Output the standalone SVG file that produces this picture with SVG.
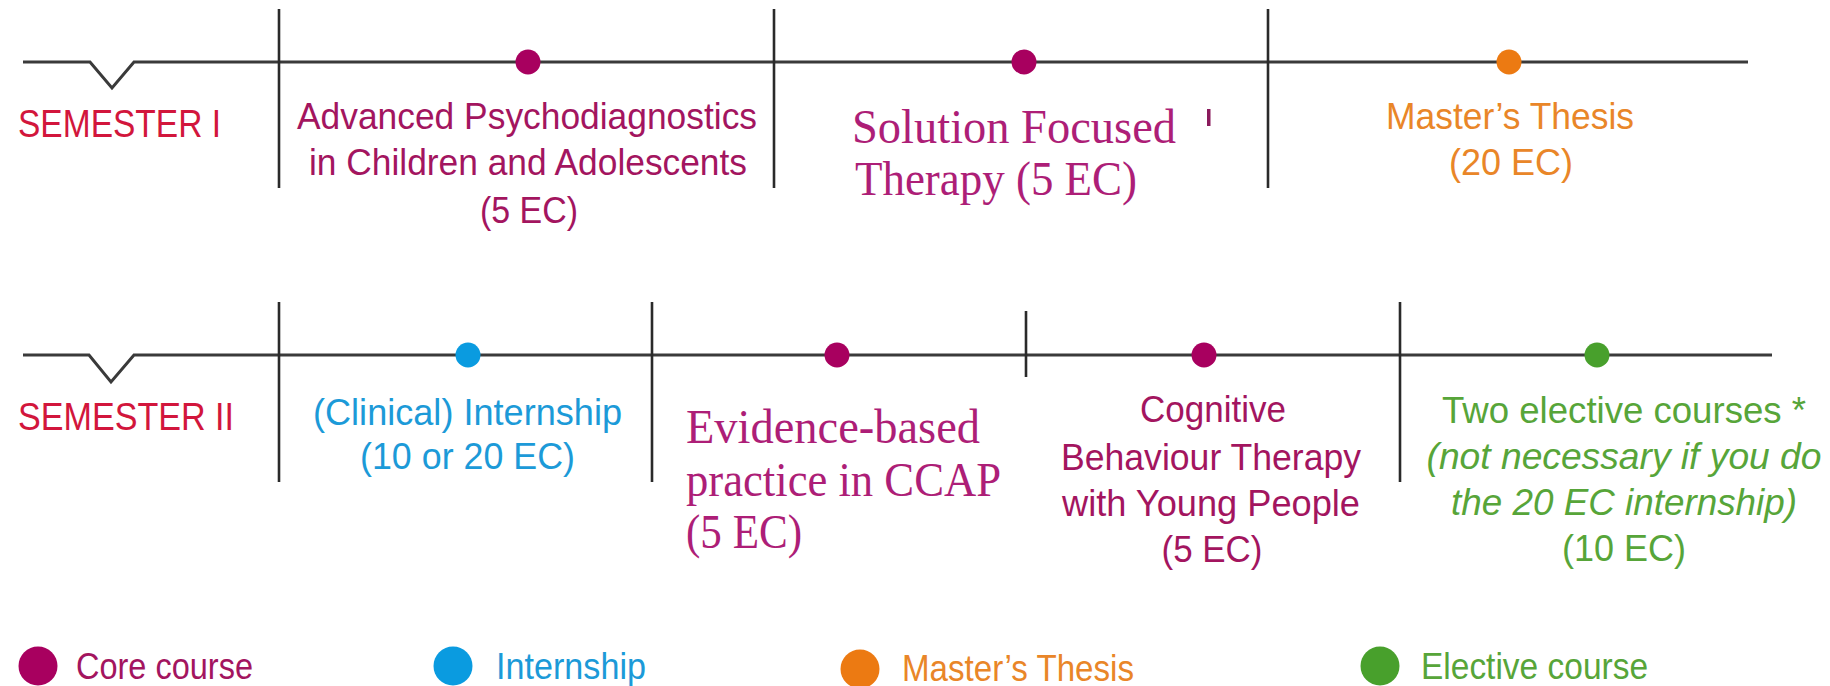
<svg xmlns="http://www.w3.org/2000/svg" width="1830" height="686" viewBox="0 0 1830 686">
<defs>
<style>
.ln{stroke:#3a3a3a;stroke-width:3;fill:none;stroke-linejoin:miter}
.dv{stroke:#2a2a2a;stroke-width:2.6}
.sans{font-family:"Liberation Sans","Noto Sans",sans-serif;font-size:37px}
.serif{font-family:"Liberation Serif","DejaVu Serif",serif;font-size:48px;fill:#ad1e77}
.sem{fill:#d2163c;font-size:38px}
.core{fill:#a3155f}
.intern{fill:#1c9ad8}
.thesis{fill:#e98628}
.elect{fill:#57a539}
.it{font-style:italic}
.dcore{fill:#a8005f}
.dintern{fill:#0a9be0}
.dthesis{fill:#ec7a12}
.delect{fill:#48a02c}
</style>
</defs>
<rect width="1830" height="686" fill="#ffffff"/>

<g id="connectors">
<polyline class="ln" points="23,62 90,62 112,88 134,62 1748,62"/>
<line class="dv" x1="279" y1="9" x2="279" y2="188"/>
<line class="dv" x1="774" y1="9" x2="774" y2="188"/>
<line class="dv" x1="1268" y1="9" x2="1268" y2="188"/>
<polyline class="ln" points="23,355 89,355 111,382 134,355 1772,355"/>
<line class="dv" x1="279" y1="302" x2="279" y2="482"/>
<line class="dv" x1="652" y1="302" x2="652" y2="482"/>
<line class="dv" x1="1026" y1="311" x2="1026" y2="377"/>
<line class="dv" x1="1400" y1="302" x2="1400" y2="482"/>
</g>

<g id="semester1">
<text class="sans sem" x="18" y="137" textLength="203" lengthAdjust="spacingAndGlyphs">SEMESTER I</text>
</g>

<g id="node-advanced-psychodiagnostics">
<circle class="dcore" cx="528" cy="62" r="12.5"/>
<text class="sans core" text-anchor="middle" x="527" y="129" textLength="460" lengthAdjust="spacingAndGlyphs">Advanced Psychodiagnostics</text>
<text class="sans core" text-anchor="middle" x="528" y="175" textLength="438" lengthAdjust="spacingAndGlyphs">in Children and Adolescents</text>
<text class="sans core" text-anchor="middle" x="529" y="223" textLength="98" lengthAdjust="spacingAndGlyphs">(5 EC)</text>
</g>

<g id="node-solution-focused">
<circle class="dcore" cx="1024" cy="62" r="12.5"/>
<text class="serif" x="852" y="143" textLength="324" lengthAdjust="spacingAndGlyphs">Solution Focused</text>
<text class="serif" x="855" y="195" textLength="282" lengthAdjust="spacingAndGlyphs">Therapy (5 EC)</text>
<rect x="1207" y="109" width="3.5" height="17" fill="#8a1a5c"/>
</g>

<g id="node-masters-thesis">
<circle class="dthesis" cx="1509" cy="62" r="12.5"/>
<text class="sans thesis" text-anchor="middle" x="1510" y="129" textLength="248" lengthAdjust="spacingAndGlyphs">Master’s Thesis</text>
<text class="sans thesis" text-anchor="middle" x="1511" y="175" textLength="124" lengthAdjust="spacingAndGlyphs">(20 EC)</text>
</g>

<g id="semester2">
<text class="sans sem" x="18" y="430" textLength="216" lengthAdjust="spacingAndGlyphs">SEMESTER II</text>
</g>

<g id="node-internship">
<circle class="dintern" cx="468" cy="355" r="12.5"/>
<text class="sans intern" text-anchor="middle" x="467.5" y="425" textLength="309" lengthAdjust="spacingAndGlyphs">(Clinical) Internship</text>
<text class="sans intern" text-anchor="middle" x="467.5" y="469" textLength="215" lengthAdjust="spacingAndGlyphs">(10 or 20 EC)</text>
</g>

<g id="node-evidence-based">
<circle class="dcore" cx="837" cy="355" r="12.5"/>
<text class="serif" x="686" y="443" textLength="294" lengthAdjust="spacingAndGlyphs">Evidence-based</text>
<text class="serif" x="686" y="496" textLength="315" lengthAdjust="spacingAndGlyphs">practice in CCAP</text>
<text class="serif" x="686" y="548" textLength="116" lengthAdjust="spacingAndGlyphs">(5 EC)</text>
</g>

<g id="node-cbt">
<circle class="dcore" cx="1204" cy="355" r="12.5"/>
<text class="sans core" text-anchor="middle" x="1213" y="422" textLength="146" lengthAdjust="spacingAndGlyphs">Cognitive</text>
<text class="sans core" text-anchor="middle" x="1211" y="470" textLength="300" lengthAdjust="spacingAndGlyphs">Behaviour Therapy</text>
<text class="sans core" text-anchor="middle" x="1211" y="516" textLength="298" lengthAdjust="spacingAndGlyphs">with Young People</text>
<text class="sans core" text-anchor="middle" x="1212" y="562" textLength="101" lengthAdjust="spacingAndGlyphs">(5 EC)</text>
</g>

<g id="node-electives">
<circle class="delect" cx="1597" cy="355" r="12.5"/>
<text class="sans elect" text-anchor="middle" x="1624" y="423" textLength="364" lengthAdjust="spacingAndGlyphs">Two elective courses *</text>
<text class="sans elect it" text-anchor="middle" x="1624" y="469" textLength="395" lengthAdjust="spacingAndGlyphs">(not necessary if you do</text>
<text class="sans elect it" text-anchor="middle" x="1624" y="515" textLength="346" lengthAdjust="spacingAndGlyphs">the 20 EC internship)</text>
<text class="sans elect" text-anchor="middle" x="1624" y="561" textLength="124" lengthAdjust="spacingAndGlyphs">(10 EC)</text>
</g>

<g id="legend-core">
<circle class="dcore" cx="38" cy="666" r="19.5"/>
<text class="sans core" x="76" y="679" textLength="177" lengthAdjust="spacingAndGlyphs">Core course</text>
</g>
<g id="legend-internship">
<circle class="dintern" cx="453" cy="666" r="19.5"/>
<text class="sans intern" x="496" y="679" textLength="150" lengthAdjust="spacingAndGlyphs">Internship</text>
</g>
<g id="legend-thesis">
<circle class="dthesis" cx="860" cy="669" r="19.5"/>
<text class="sans thesis" x="902" y="681" textLength="232" lengthAdjust="spacingAndGlyphs">Master’s Thesis</text>
</g>
<g id="legend-elective">
<circle class="delect" cx="1380" cy="666" r="19.5"/>
<text class="sans elect" x="1421" y="679" textLength="227" lengthAdjust="spacingAndGlyphs">Elective course</text>
</g>
</svg>
